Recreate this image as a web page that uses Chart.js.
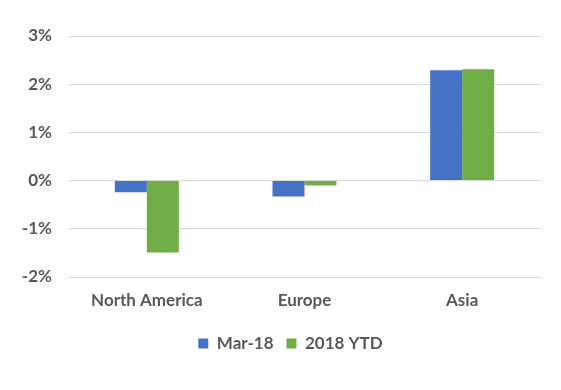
<!DOCTYPE html>
<html>
<head>
<meta charset="utf-8">
<script src="https://cdn.jsdelivr.net/npm/chart.js@4"></script>
<style>
  html, body { margin: 0; padding: 0; background: #fff; }
  #wrap { width: 561px; height: 390px; }
</style>
</head>
<body>
<div id="wrap"><canvas id="regionChart" width="561" height="390"></canvas></div>
<script>
// Regions and returns (in %)
const regions = ["North America", "Europe", "Asia"];
const mar18 = [-0.24, -0.33, 2.29];
const ytd2018 = [-1.49, -0.10, 2.31];
const yTicks = [-2, -1, 0, 1, 2, 3];

const textGray = "#595959";
const font = { family: "Lato, 'Open Sans', sans-serif", size: 17, weight: "bold" };

// legend sits centred under the plot area, not the whole canvas
const shiftLegend = {
    id: "shiftLegend",
    afterLayout(chart) {
        chart.legend.left += 20;
        chart.legend.right += 20;
    }
};

document.addEventListener("DOMContentLoaded", () => {
    const ctx = document.getElementById("regionChart").getContext("2d");
    new Chart(ctx, {
        type: "bar",
        data: {
            labels: regions,
            datasets: [{
                label: "Mar-18",
                data: mar18,
                backgroundColor: "#4472C4"
            }, {
                label: "2018 YTD",
                data: ytd2018,
                backgroundColor: "#70AD47"
            }]
        },
        plugins: [shiftLegend],
        options: {
            responsive: false,
            animation: false,
            categoryPercentage: 0.406,
            barPercentage: 1,
            layout: { padding: { left: 0, right: 20, top: 36, bottom: 28 } },
            plugins: {
                tooltip: { enabled: false },
                legend: {
                    position: "bottom",
                    labels: {
                        color: textGray,
                        font: font,
                        boxWidth: 10,
                        boxHeight: 10,
                        padding: 13
                    }
                }
            },
            scales: {
                x: {
                    grid: { display: false },
                    border: { display: false },
                    ticks: { color: textGray, font: font, padding: 5 },
                    afterFit: (scale) => { scale.height = 45; }
                },
                y: {
                    min: yTicks[0],
                    max: yTicks[yTicks.length - 1],
                    afterBuildTicks: (scale) => { scale.ticks = yTicks.map(v => ({ value: v })); },
                    grid: { color: "#d9d9d9", drawTicks: false },
                    border: { display: false },
                    ticks: {
                        color: textGray,
                        font: font,
                        padding: 16,
                        callback: (v) => v + "%"
                    },
                    afterFit: (scale) => { scale.width = 68; }
                }
            }
        }
    });
});
</script>
</body>
</html>
